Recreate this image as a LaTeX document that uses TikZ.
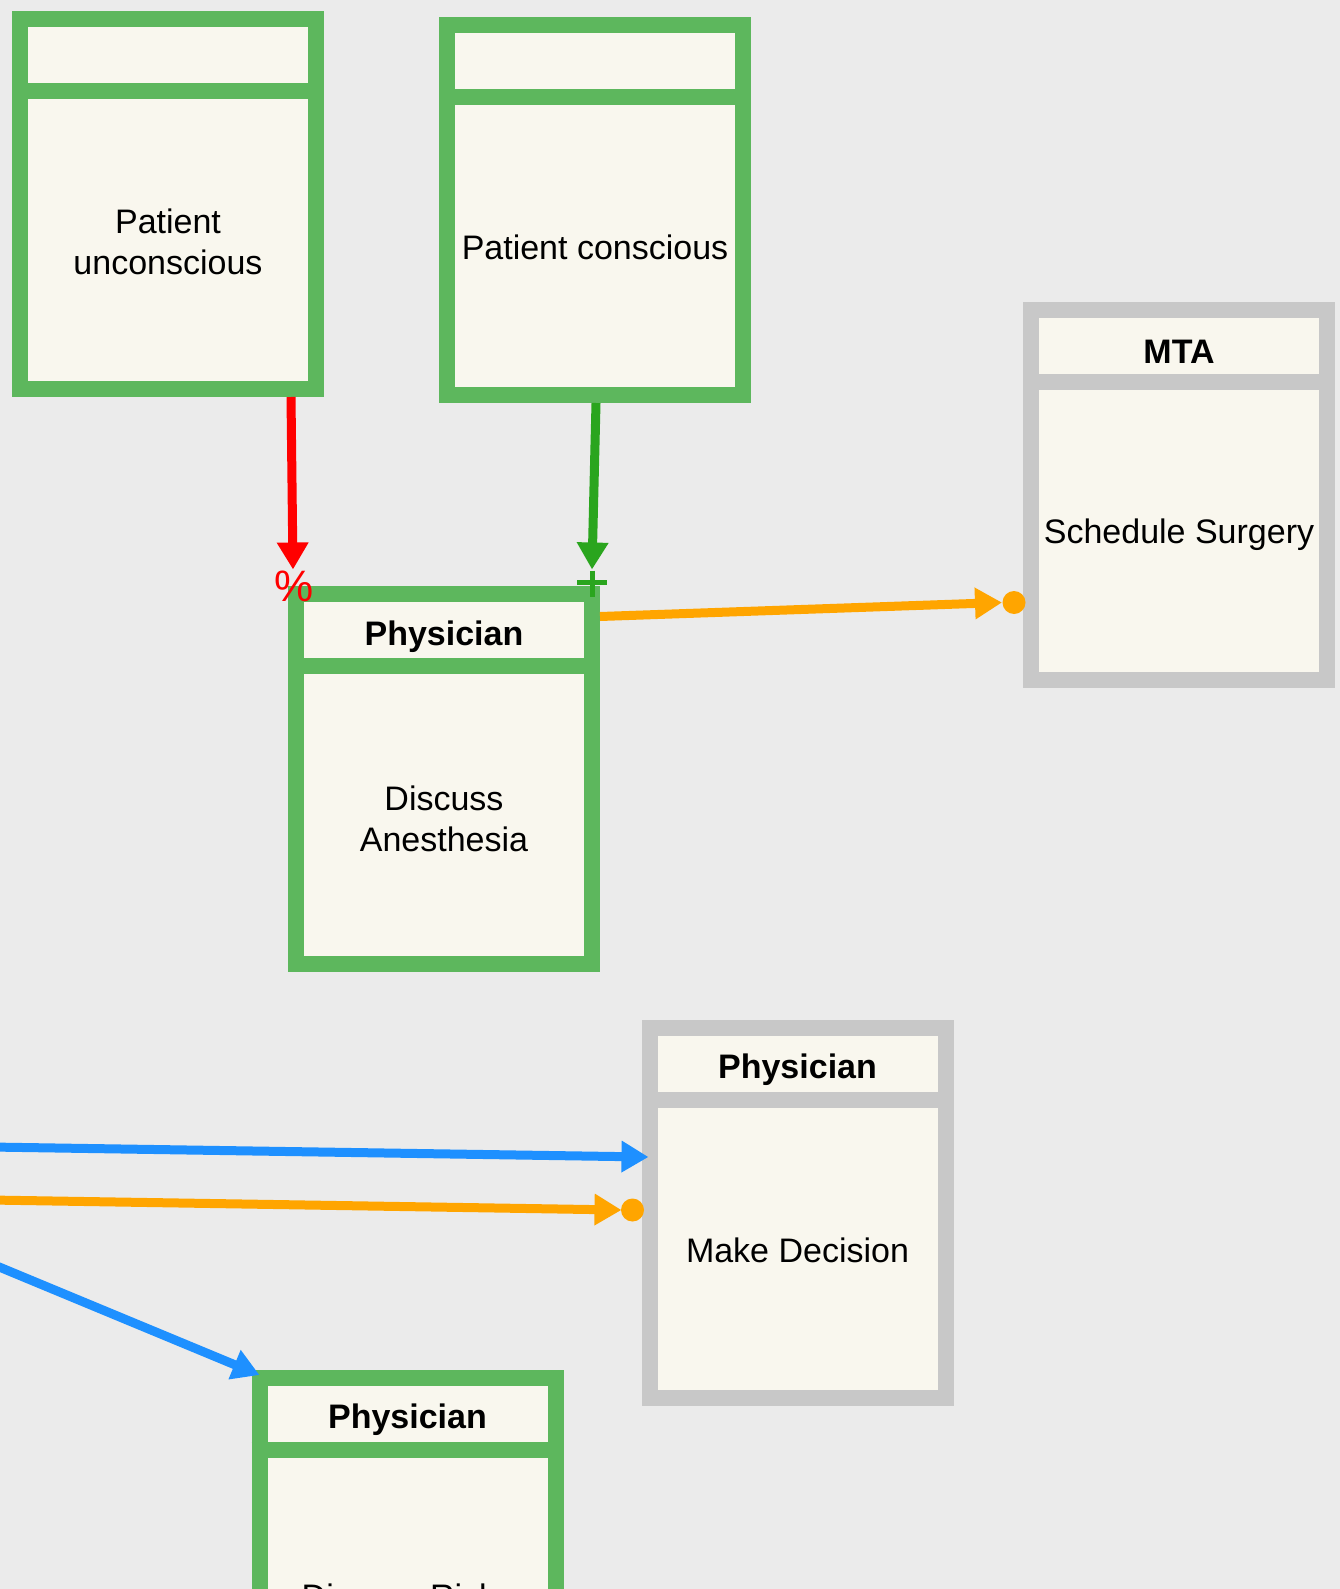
\documentclass[tikz,border=0pt]{standalone}
\usepackage{fontspec}
\setmainfont{Liberation Sans}
\usetikzlibrary{arrows.meta,calc}

\definecolor{bg}{RGB}{235,235,235}
\definecolor{cream}{RGB}{249,247,238}
\definecolor{boxgreen}{RGB}{93,183,93}
\definecolor{boxgray}{RGB}{200,200,200}
\definecolor{linkred}{RGB}{255,0,0}
\definecolor{linkgreen}{RGB}{42,165,30}
\definecolor{linkorange}{RGB}{255,165,0}
\definecolor{linkblue}{RGB}{30,144,255}

\tikzset{
  lane/.style={draw=#1, fill=cream, line width=16pt, minimum width=296pt,
    minimum height=370pt, inner sep=0pt},
  divider/.style={draw=#1, line width=16pt},
  boxtext/.style={font=\fontsize{34}{41}\selectfont, align=center, inner sep=0pt, text=black},
  headtext/.style={font=\fontsize{34}{41}\selectfont\bfseries, align=center, inner sep=0pt, text=black},
  conn/.style={line width=9pt, draw=#1, -{Triangle[length=27pt,width=30pt]}},
  enddot/.style={fill=#1},
}

\begin{document}
\begin{tikzpicture}[x=1pt,y=-1pt]
\useasboundingbox (0,0) rectangle (1340,1589);
\clip (0,0) rectangle (1340,1589);
\fill[bg] (0,0) rectangle (1340,1589);

% swimlane-style boxes
\node[lane=boxgreen] (pu)  at (168,204)      {};
\node[lane=boxgreen] (pc)  at (595,210)      {};
\node[lane=boxgreen] (pa)  at (444,778.5)    {};
\node[lane=boxgray]  (mta) at (1179,494.5)   {};
\node[lane=boxgray]  (md)  at (797.5,1212.5) {};
\node[lane=boxgreen] (rk)  at (407.5,1563)   {};

% header dividers
\foreach \b/\c in {pu/boxgreen, pc/boxgreen, pa/boxgreen, mta/boxgray, md/boxgray, rk/boxgreen}
  \draw[divider=\c] ($(\b.north west)+(0,80)$) -- ($(\b.north east)+(0,80)$);

% titles and contents
\node[boxtext]  (pu-body)  at ($(pu.north)+(0,231)$)  {Patient\\unconscious};
\node[boxtext]  (pc-body)  at ($(pc.north)+(0,230)$)  {Patient conscious};
\node[headtext] (pa-head)  at ($(pa.north)+(0,51)$)   {Physician};
\node[boxtext]  (pa-body)  at ($(pa.north)+(0,233)$)  {Discuss\\Anesthesia};
\node[headtext] (mta-head) at ($(mta.north)+(0,50)$)  {MTA};
\node[boxtext]  (mta-body) at ($(mta.north)+(0,233)$) {Schedule Surgery};
\node[headtext] (md-head)  at ($(md.north)+(0,50)$)   {Physician};
\node[boxtext]  (md-body)  at ($(md.north)+(0,231)$)  {Make Decision};
\node[headtext] (rk-head)  at ($(rk.north)+(0,50)$)   {Physician};
\node[boxtext]  (rk-body)  at ($(rk.north)+(0,226)$)  {Discuss Risks};

% sources beyond the left edge
\coordinate (srcA) at (-10,1147);
\coordinate (srcB) at (-10,1200);
\coordinate (srcC) at (-20,1259);

% connectors
\draw[conn=linkred] ($(pu.south east)+(-33,0)$) -- ($(pa.north west)+(5,-16)$);
\node[text=linkred, font=\fontsize{44}{44}\selectfont, inner sep=0pt] (pct)
  at ($(pa.north west)+(6,1)$) {\%};

\draw[conn=linkgreen] ($(pc.south)+(1,0)$) -- ($(pa.north east)+(-8,-16)$);
\coordinate (plus) at ($(pa.north east)+(-8,-3)$);
\draw[linkgreen, line width=5pt] ($(plus)+(-15,0)$) -- ($(plus)+(15,0)$)
  ($(plus)+(0,-12)$) -- ($(plus)+(0,14)$);

\draw[conn=linkorange] ($(pa.north east)+(0,31)$) -- ($(mta.west)+(-21,108)$);
\fill[enddot=linkorange] ($(mta.west)+(-9,108)$) circle[radius=11.5pt];

\draw[conn=linkblue] (srcA) -- ($(md.west)+(7,-55.5)$);
\draw[conn=linkorange] (srcB) -- ($(md.west)+(-20,-2.5)$);
\fill[enddot=linkorange] ($(md.west)+(-9,-2.5)$) circle[radius=11.5pt];

\draw[conn=linkblue] (srcC) -- ($(rk.north west)+(8,5)$);
\end{tikzpicture}
\end{document}
